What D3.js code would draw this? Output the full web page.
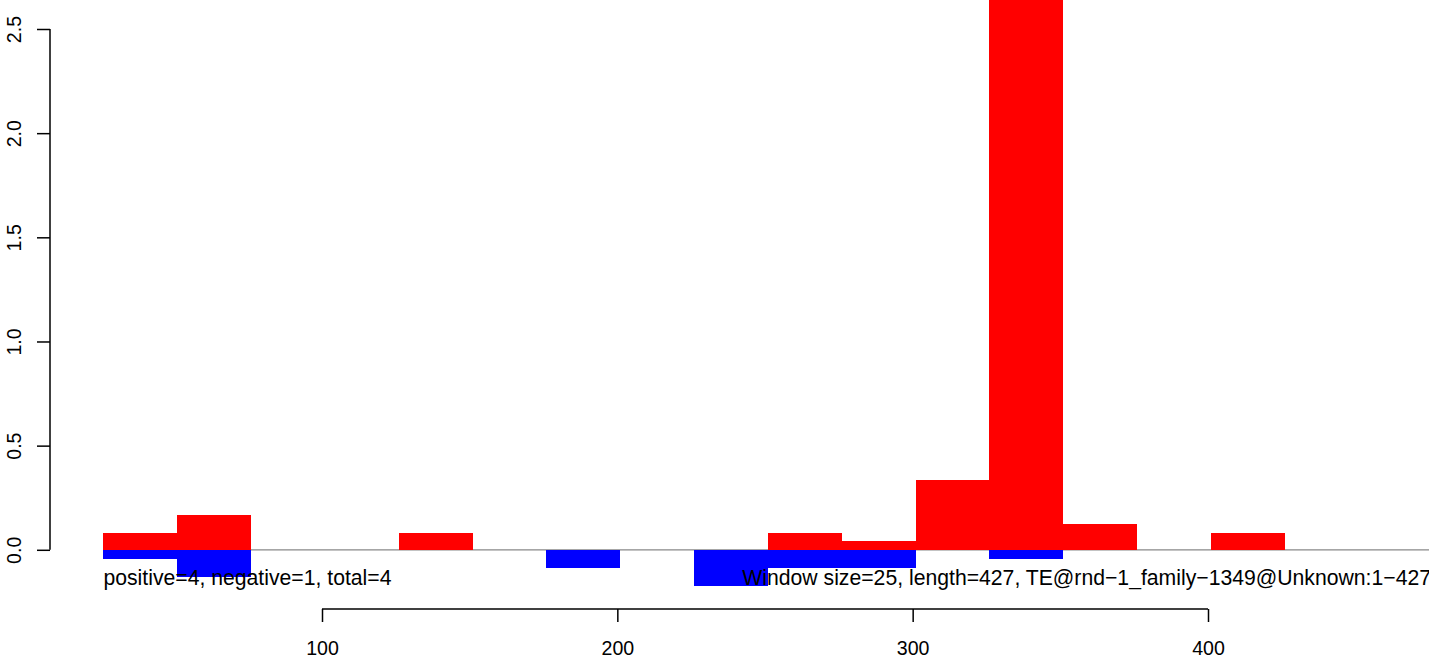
<!DOCTYPE html>
<html>
<head>
<meta charset="utf-8">
<script src="https://cdn.jsdelivr.net/npm/d3@7"></script>
<style>
  html, body { margin: 0; padding: 0; background: #fff; }
  svg { display: block; }
  text { font-family: "Liberation Sans", Arial, Helvetica, sans-serif; fill: #000; }
</style>
</head>
<body>
<svg id="chart" width="1429" height="657"></svg>
<script>
// ---- data ----
const windowSize = 25;
const binStarts = [26, 51, 76, 101, 126, 151, 176, 201, 226, 251, 276, 301, 326, 351, 376, 401];
const positiveValues = [0.081, 0.167, 0, 0, 0.081, 0, 0, 0, 0, 0.081, 0.042, 0.335, 2.9, 0.124, 0, 0.081];
const negativeValues = [-0.044, -0.129, 0, 0, 0, 0, -0.086, 0, -0.174, -0.086, -0.086, 0, -0.044, 0, 0, 0];
const xTicks = [100, 200, 300, 400];
const yTicks = [0.0, 0.5, 1.0, 1.5, 2.0, 2.5];
const leftLabel = "positive=4, negative=1, total=4";
const rightLabel = "Window size=25, length=427, TE@rnd\u22121_family\u22121349@Unknown:1\u2212427";

// ---- layout ----
const W = 1429, H = 657;
const svg = d3.select("#chart");
const x = d3.scaleLinear().domain([100, 400]).range([322, 1208]);
const y = d3.scaleLinear().domain([0, 2.5]).range([549.8, 29]);
const plotTop = 0, plotBottom = 609, plotLeft = 50, plotRight = W + 40;

svg.append("defs").append("clipPath").attr("id", "plotclip")
  .append("rect").attr("x", plotLeft).attr("y", plotTop)
  .attr("width", plotRight - plotLeft).attr("height", plotBottom - plotTop);

const plot = svg.append("g").attr("clip-path", "url(#plotclip)");

// zero line
plot.append("line")
  .attr("x1", x(binStarts[0])).attr("x2", plotRight)
  .attr("y1", y(0)).attr("y2", y(0))
  .attr("stroke", "#888").attr("stroke-width", 1.2);

const bins = binStarts.map((s, i) => ({ s, pos: positiveValues[i], neg: negativeValues[i] }));

plot.selectAll("rect.pos").data(bins.filter(d => d.pos > 0)).enter().append("rect")
  .attr("class", "pos")
  .attr("x", d => x(d.s)).attr("width", d => x(d.s + windowSize) - x(d.s))
  .attr("y", d => y(d.pos)).attr("height", d => y(0) - y(d.pos) + 0.5)
  .attr("fill", "#ff0000").attr("shape-rendering", "crispEdges");

plot.selectAll("rect.neg").data(bins.filter(d => d.neg < 0)).enter().append("rect")
  .attr("class", "neg")
  .attr("x", d => x(d.s)).attr("width", d => x(d.s + windowSize) - x(d.s))
  .attr("y", y(0)).attr("height", d => y(d.neg) - y(0))
  .attr("fill", "#0000ff").attr("shape-rendering", "crispEdges");

// annotation texts
svg.append("text").attr("x", x(binStarts[0])).attr("y", 585)
  .attr("font-size", 21.2).text(leftLabel);
svg.append("text").attr("x", 1431).attr("y", 585)
  .attr("text-anchor", "end").attr("font-size", 21.2).text(rightLabel);

// x axis
const xAxis = d3.axisBottom(x).tickValues(xTicks).tickSize(13).tickPadding(20)
  .tickFormat(d3.format("d"));
const gx = svg.append("g").attr("transform", `translate(0,${plotBottom})`).call(xAxis);
gx.select(".domain").attr("d", `M${x(xTicks[0])},0H${x(xTicks[xTicks.length-1])}`)
  .attr("stroke", "#000").attr("stroke-width", 1.5);
gx.selectAll(".tick line").attr("stroke", "#000").attr("stroke-width", 1.5);
gx.selectAll(".tick text").attr("font-size", 19.6).attr("font-family", "Liberation Sans, Arial, sans-serif")
  .attr("fill", "#000").attr("dy", null).attr("y", 46);

// y axis
const yAxis = d3.axisLeft(y).tickValues(yTicks).tickSize(13).tickFormat(d3.format(".1f"));
const gy = svg.append("g").attr("transform", `translate(${plotLeft},0)`).call(yAxis);
gy.select(".domain").attr("d", `M0,${y(yTicks[0])}V${y(yTicks[yTicks.length-1])}`)
  .attr("stroke", "#000").attr("stroke-width", 1.5);
gy.selectAll(".tick line").attr("stroke", "#000").attr("stroke-width", 1.5);
gy.selectAll(".tick text")
  .attr("font-size", 19.6).attr("font-family", "Liberation Sans, Arial, sans-serif").attr("fill", "#000")
  .attr("x", null).attr("dy", null)
  .attr("text-anchor", "middle")
  .attr("transform", "translate(-29,0) rotate(-90)");
</script>
</body>
</html>
